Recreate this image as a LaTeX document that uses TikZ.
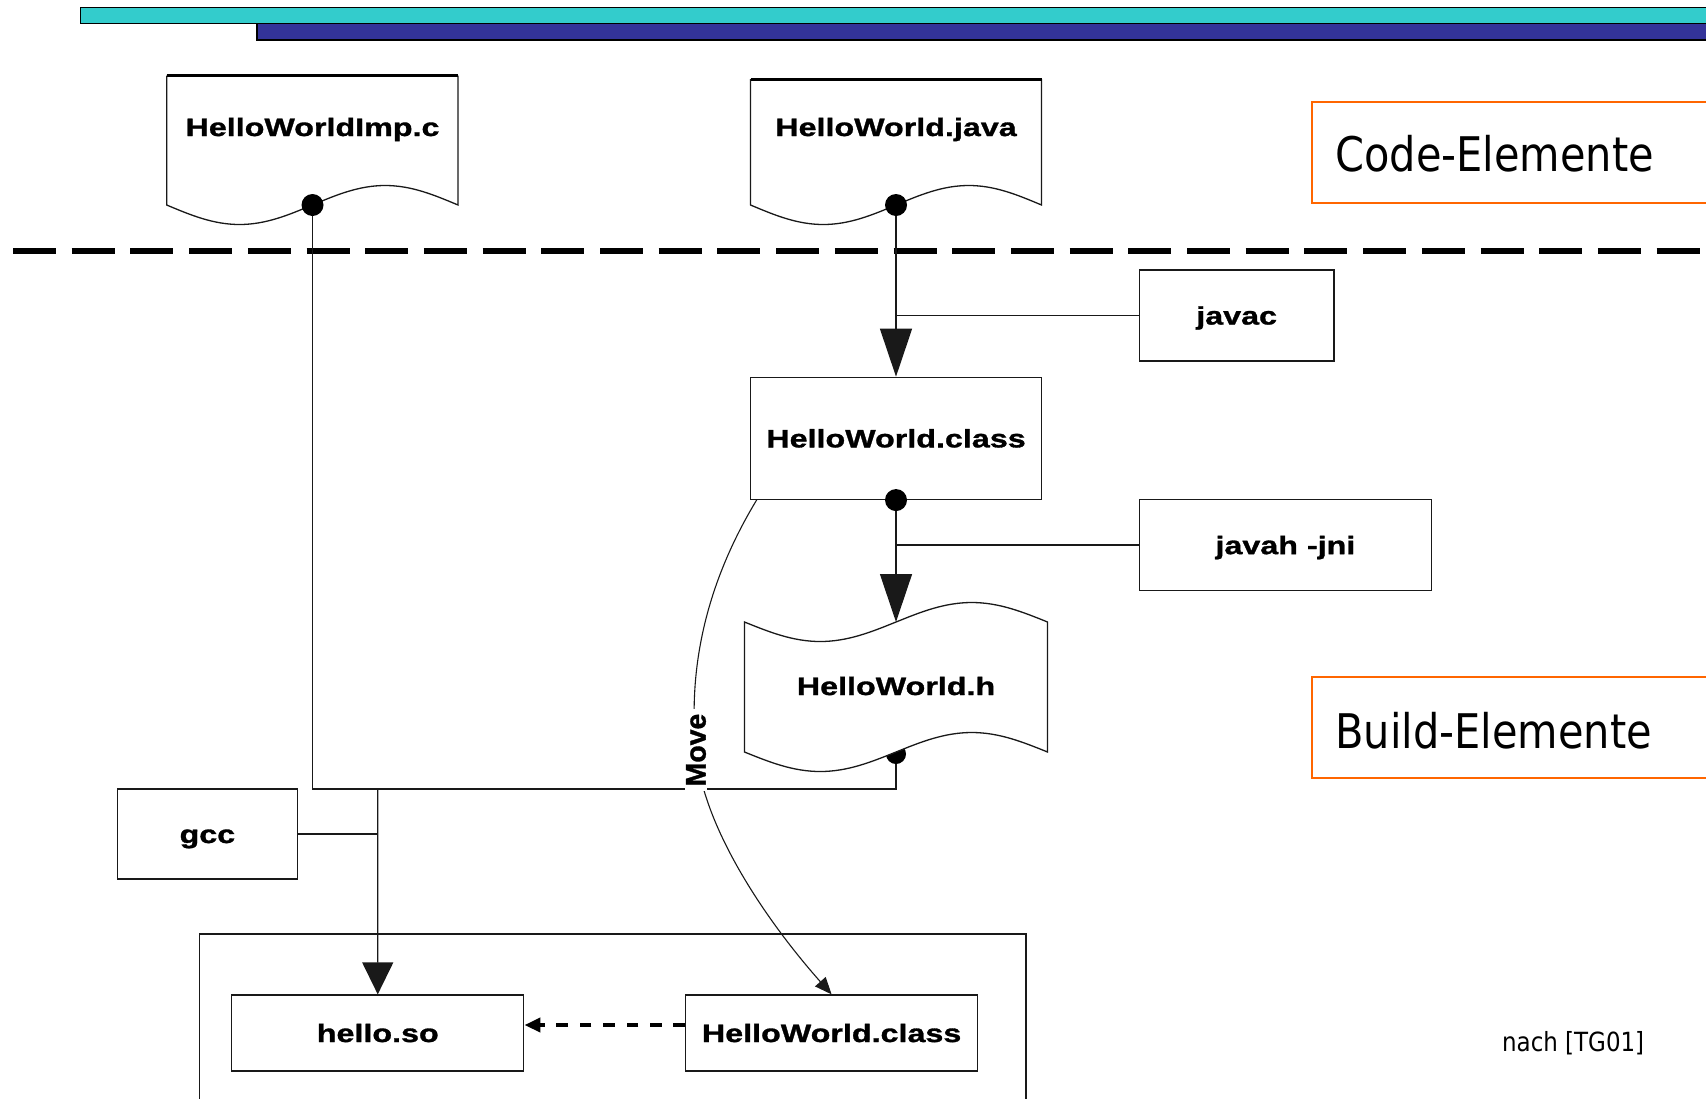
\documentclass[tikz,border=0pt]{standalone}
\usepackage{fontspec}
\setmainfont{Liberation Sans}
\newfontfamily\lblfont[FakeStretch=1.28, FakeBold=1.2]{Liberation Sans Bold}
\newfontfamily\movefont[FakeBold=1.2]{Liberation Sans Bold}
\newfontfamily\tahfont[FakeStretch=0.87]{DejaVu Sans}
\usetikzlibrary{arrows.meta}
\definecolor{barcyan}{RGB}{51,204,204}
\definecolor{barblue}{RGB}{51,51,153}
\definecolor{orng}{RGB}{255,102,0}
\definecolor{ln}{RGB}{25,25,25}
\begin{document}
\begin{tikzpicture}[x=0.5pt,y=-0.5pt,
  lbl/.style={font=\lblfont\fontsize{12.6}{14}\selectfont, inner sep=0pt, text height=9pt, text depth=0pt},
  boxn/.style={draw=ln, line width=0.65pt, fill=white, lbl},
  conn/.style={draw=ln, line width=0.65pt},
  bigtri/.style={-{Triangle[length=24pt,width=16pt]}},
  midtri/.style={-{Triangle[length=16pt,width=15.5pt]}},
  movetip/.style={-{Triangle[length=8.5pt,width=7pt]}},
  dasharr/.style={draw=black, line width=2pt, dash pattern=on 5.85pt off 5.85pt, -{Triangle[length=8pt,width=7pt]}},
  docshape/.style={draw=ln, line width=0.65pt, fill=white},
  orbox/.style={draw=orng, line width=1.4pt},
  tah/.style={font=\tahfont\fontsize{23.85}{28}\selectfont, anchor=base west, inner sep=0pt},
  smalltah/.style={font=\tahfont\fontsize{13.2}{15}\selectfont, anchor=base west, inner sep=0pt}
]
\useasboundingbox (0,0) rectangle (1706,1098);

% header bars
\draw[fill=barcyan, draw=black, line width=0.75pt] (80.5,7.5) rectangle (1720,23.5);
\draw[fill=barblue, draw=black, line width=0.75pt] (257,23.5) rectangle (1720,40);

% separator
\draw[line width=2.85pt, dash pattern=on 21.5pt off 7.85pt] (13,251) -- (1720,251);

% orange section boxes
\draw[orbox] (1720,102) -| (1312,203) -- (1720,203);
\draw[orbox] (1720,677) -| (1312,778) -- (1720,778);
\node[tah] (codeel) at (1335,171.5) {Code-Elemente};
\node[tah] (buildel) at (1335,748) {Build-Elemente};
\node[smalltah] (nach) at (1501.7,1051) {nach [TG01]};

% bottom container
\draw[conn] (199.8,1100) |- (1026,934) -- (1026,1100);

% coordinates
\coordinate (impdot) at (312.5,205);
\coordinate (javadot) at (896,205);
\coordinate (htop) at (896,622);
\coordinate (hdot) at (896,754);
\coordinate (hj) at (896,789);
\coordinate (sj) at (377.7,789);
\coordinate (mvs) at (757,499.4);

% boxes
\node[boxn, minimum width=97.35pt, minimum height=45.5pt] (javac) at (1236.65,315.5) {javac};
\node[boxn, minimum width=145.75pt, minimum height=61.05pt] (class) at (896,438.35) {HelloWorld.class};
\node[boxn, minimum width=146.1pt, minimum height=45.7pt] (javah) at (1285.4,545.1) {javah -jni};
\node[boxn, minimum width=89.9pt, minimum height=45pt] (gcc) at (207.4,834) {gcc};
\node[boxn, minimum width=146.05pt, minimum height=38pt] (hello) at (377.75,1033) {hello.so};
\node[boxn, minimum width=145.9pt, minimum height=38pt] (class2) at (831.6,1033) {HelloWorld.class};

% connectors
\draw[conn, bigtri] (javadot) -- (class.north);
\draw[conn] (javac.west) -- (javac.west -| javadot);
\draw[conn, bigtri] (class.south) -- (htop);
\draw[conn] (javah.west) -- (javah.west -| class.south);
\draw[conn] (impdot) |- (hj) -- (hdot);
\draw[conn] (gcc.east) -- (gcc.east -| sj);
\draw[conn, midtri] (sj) -- (hello.north);
\draw[dasharr] ([yshift=4pt]class2.west) -- ([yshift=4pt]hello.east);
\draw[conn, line width=0.55pt, movetip] (mvs) .. controls (705,585) and (688,670) .. (696,750)
   .. controls (703,830) and (770,925) .. (class2.north);
\node[font=\movefont\fontsize{14.2}{16}\selectfont, rotate=90, fill=white, inner xsep=2.5pt, inner ysep=0.5pt] (move) at (696,750) {Move};

% document shapes
\draw[docshape] (166.7,75.7) -- (166.7,205) sin (239.5,224.5) cos (312.35,205) sin (385.2,185.5) cos (458,205) -- (458,75.7);
\draw[line width=1.5pt] (166.7,75.7) -- (458,75.7);
\node[lbl, anchor=base] (imp) at (312.5,136) {HelloWorldImp.c};
\fill (impdot) circle[radius=5.5pt];

\draw[docshape] (750.5,79) -- (750.5,205) sin (823.25,224.5) cos (896,205) sin (968.75,185.5) cos (1041.5,205) -- (1041.5,79);
\draw[line width=1.5pt] (750.5,79) -- (1041.5,79);
\node[lbl, anchor=base] (java) at (896,136) {HelloWorld.java};
\fill (javadot) circle[radius=5.5pt];

\fill (class.south) circle[radius=5.5pt];

\fill (hdot) circle[radius=5pt];
\draw[docshape] (744.5,622) sin (820.25,641.5) cos (896,622) sin (971.75,602.5) cos (1047.5,622)
  -- (1047.5,752) sin (971.75,732.5) cos (896,752) sin (820.25,771.5) cos (744.5,752) -- cycle;
\node[lbl] (hfile) at (896,686) {HelloWorld.h};
\end{tikzpicture}
\end{document}
